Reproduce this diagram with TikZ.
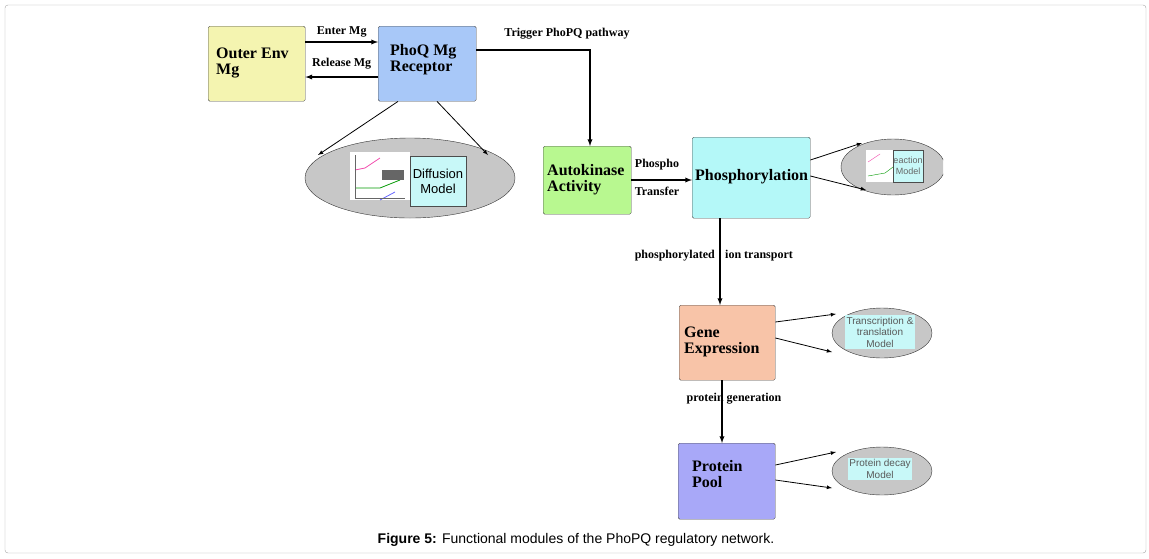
\documentclass[tikz,border=0pt]{standalone}
\usepackage{fontspec}
\usetikzlibrary{shapes.geometric}
\setmainfont{Liberation Serif}
\newfontfamily\sansf{Liberation Sans}
\definecolor{cenv}{HTML}{F4F4B0}
\definecolor{crec}{HTML}{A8C8F8}
\definecolor{cauto}{HTML}{B8F890}
\definecolor{cphos}{HTML}{B4F8F8}
\definecolor{cgene}{HTML}{F8C4A8}
\definecolor{cpool}{HTML}{A8A8F8}
\definecolor{cmod}{HTML}{C8F8F8}
\begin{document}
\begin{tikzpicture}[x=1pt,y=-1pt,
  box/.style={draw=black!70,rounded corners=1.5pt,inner sep=0pt,anchor=north west},
  btxt/.style={anchor=west,font=\bfseries\fontsize{16}{16}\selectfont,align=left,inner sep=0pt},
  lab/.style={font=\bfseries\fontsize{12}{12}\selectfont,inner sep=1pt},
  arr/.style={-latex,line width=1.3pt},
  sarr/.style={-latex,line width=0.8pt},
  ell/.style={draw=black!80,fill=black!22,ellipse,inner sep=0pt},
  mtext/.style={font=\sansf\fontsize{10}{11.5}\selectfont,fill=cmod,align=center,text=black!65,inner sep=1.5pt}]
\useasboundingbox (0,0) rectangle (1149,558);
\draw[black!35,rounded corners=3pt] (5,5) rectangle (1146,553);
% boxes
\node[box,fill=cenv,minimum width=97pt,minimum height=75pt] (env) at (208,26) {};
\node[btxt] at (216,63) {Outer Env\\Mg};
\node[box,fill=crec,minimum width=98pt,minimum height=75pt] (rec) at (378,26) {};
\node[btxt] at (390,60) {PhoQ Mg\\Receptor};
\node[box,fill=cauto,minimum width=88pt,minimum height=68pt] (auto) at (543,146) {};
\node[btxt] at (547,180) {Autokinase\\Activity};
\node[box,fill=cphos,minimum width=118pt,minimum height=81pt] (phos) at (692,137) {};
\node[btxt] at (695,177) {Phosphorylation};
\node[box,fill=cgene,minimum width=96pt,minimum height=75pt] (gene) at (679,305) {};
\node[btxt] at (684,342) {Gene\\Expression};
\node[box,fill=cpool,minimum width=97pt,minimum height=76pt] (pool) at (678,443) {};
\node[btxt] at (692,474) {Protein\\Pool};
% ellipses
\node[ell,minimum width=210pt,minimum height=80pt] (dif) at (410,178) {};
\fill[white] (350,152) rectangle (410,200);
\draw[magenta!70,thick] (355,170) -- (365,168) -- (380,158);
\draw[green!60!black,thick] (355,188) -- (380,188) -- (400,180);
\draw[blue!60,thick] (380,200) -- (395,192);
\draw[black!60] (355,155) -- (355,198) -- (405,198);
\fill[black!60] (382,170) rectangle (404,180);
\node[draw=black!70,fill=cmod,minimum width=56pt,minimum height=50pt,font=\sansf\fontsize{13}{15}\selectfont,align=center,inner sep=0pt] (difm) at (438,181) {Diffusion\\Model};
\begin{scope}
\clip (800,120) rectangle (943,210);
\node[ell,minimum width=104pt,minimum height=56pt] (rea) at (893,167) {};
\fill[white] (866,150) rectangle (893,182);
\draw[magenta!70] (868,162) -- (880,154);
\draw[green!60!black] (868,176) -- (885,173) -- (893,167);
\node[draw=black!70,fill=cmod,minimum width=30pt,minimum height=32pt,font=\sansf\fontsize{9}{11}\selectfont,align=center,inner sep=0pt,text=black!60] (ream) at (908,166) {eaction\\Model};
\end{scope}
\node[ell,minimum width=100pt,minimum height=50pt] (tra) at (882,333) {};
\node[mtext] at (880,332) {Transcription \&\\translation\\Model};
\node[ell,minimum width=100pt,minimum height=48pt] (dec) at (882,471) {};
\node[mtext] at (880,469) {Protein decay\\Model};
% connectors
\draw[arr] (env.north east |- 0,42) -- (rec.north west |- 0,42) node[lab,midway,above=3pt] {Enter Mg};
\draw[arr] (rec.north west |- 0,77) -- (env.north east |- 0,77) node[lab,midway,above=6pt] {Release Mg};
\coordinate (tc) at (590,50);
\draw[arr] (rec.north east |- 0,50) -- (tc) -- (auto.north west -| tc);
\node[lab,anchor=south] at (567,40) {Trigger PhoPQ pathway};
\draw[arr] (auto.north east |- 0,180) -- (phos.north west |- 0,180);
\node[lab] at (657,165) {Phospho};
\node[lab] at (657,191) {Transfer};
\draw[arr] (phos.south west -| 720,0) -- (gene.north west -| 720,0);
\node[lab,anchor=east] at (716,256) {phosphorylated};
\node[lab,anchor=west] at (724,256) {ion transport};
\draw[arr] (gene.south west -| 722,0) -- (pool.north west -| 722,0);
\node[lab] at (734,399) {protein generation};
\coordinate (d1) at (318,155); \coordinate (d2) at (488,155);
\draw[sarr] (rec.south west -| 398,0) -- (d1);
\draw[sarr] (rec.south west -| 437,0) -- (d2);
\coordinate (r1) at (862,143); \coordinate (r2) at (866,190);
\draw[sarr] (phos.north east |- 0,160) -- (r1);
\draw[sarr] (phos.north east |- 0,176) -- (r2);
\coordinate (t1) at (836,314); \coordinate (t2) at (832,352);
\draw[sarr] (gene.north east |- 0,322) -- (t1);
\draw[sarr] (gene.north east |- 0,338) -- (t2);
\coordinate (p1) at (836,452); \coordinate (p2) at (832,488);
\draw[sarr] (pool.north east |- 0,465) -- (p1);
\draw[sarr] (pool.north east |- 0,480) -- (p2);
\node[font=\sansf\fontsize{14}{14}\selectfont] at (576,540) {\textbf{Figure 5:} Functional modules of the PhoPQ regulatory network.};
\end{tikzpicture}
\end{document}
